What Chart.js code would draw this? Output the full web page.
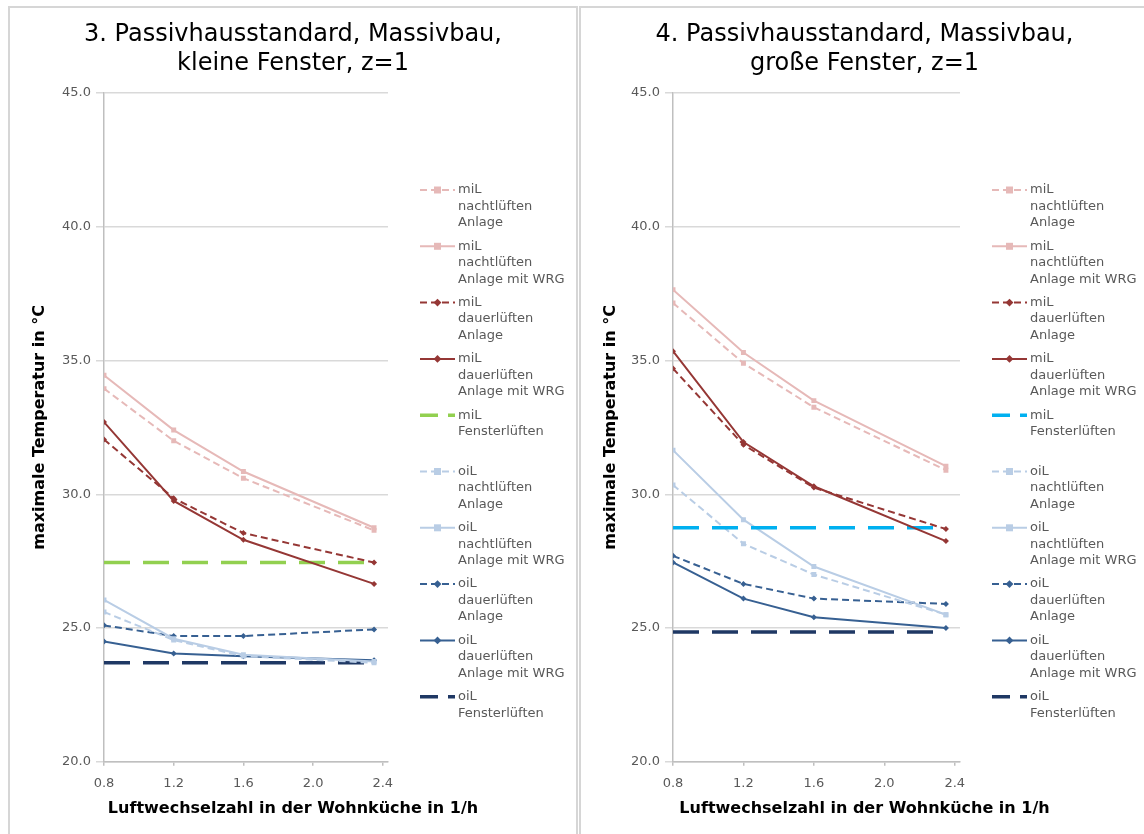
<!DOCTYPE html>
<html lang="de">
<head>
<meta charset="utf-8">
<title>Maximale Temperatur – Passivhausstandard, Massivbau</title>
<script src="https://cdn.jsdelivr.net/npm/chart.js@4.4.1/dist/chart.umd.min.js"></script>
<style>
  html, body { margin: 0; padding: 0; background: #fff; overflow: hidden; }
  .panel { position: absolute; top: 6px; border: 2px solid #d6d6d6; background: #fff; }
  #panel-klein { left: 8px; }
  #panel-gross { left: 579px; }
  canvas { display: block; }
</style>
</head>
<body>
<div class="panel" id="panel-klein"><canvas id="chartKlein" width="566" height="826"></canvas></div>
<div class="panel" id="panel-gross"><canvas id="chartGross" width="567" height="826"></canvas></div>
<script>
// Luftwechselzahl in der Wohnküche (1/h) und Achsenteilung
const luftwechsel = [0.8, 1.2, 1.6, 2.35];
const xTicks = [0.8, 1.2, 1.6, 2.0, 2.4];
const yTicks = [20, 25, 30, 35, 40, 45];

const seriesNames = [
  ['miL', 'nachtlüften', 'Anlage'],
  ['miL', 'nachtlüften', 'Anlage mit WRG'],
  ['miL', 'dauerlüften', 'Anlage'],
  ['miL', 'dauerlüften', 'Anlage mit WRG'],
  ['miL', 'Fensterlüften'],
  ['oiL', 'nachtlüften', 'Anlage'],
  ['oiL', 'nachtlüften', 'Anlage mit WRG'],
  ['oiL', 'dauerlüften', 'Anlage'],
  ['oiL', 'dauerlüften', 'Anlage mit WRG'],
  ['oiL', 'Fensterlüften']
];

// 3. kleine Fenster – maximale Temperatur in °C
const kleinMilNachtAnlage = [33.95, 32.0, 30.6, 28.65];
const kleinMilNachtWrg = [34.45, 32.4, 30.85, 28.75];
const kleinMilDauerAnlage = [32.05, 29.85, 28.55, 27.45];
const kleinMilDauerWrg = [32.7, 29.75, 28.3, 26.65];
const kleinMilFenster = [27.45, 27.45, 27.45, 27.45];
const kleinOilNachtAnlage = [25.6, 24.55, 23.95, 23.7];
const kleinOilNachtWrg = [26.05, 24.6, 24.0, 23.75];
const kleinOilDauerAnlage = [25.1, 24.7, 24.7, 24.95];
const kleinOilDauerWrg = [24.5, 24.05, 23.95, 23.8];
const kleinOilFenster = [23.7, 23.7, 23.7, 23.7];

// 4. große Fenster – maximale Temperatur in °C
const grossMilNachtAnlage = [37.15, 34.9, 33.25, 30.9];
const grossMilNachtWrg = [37.65, 35.3, 33.5, 31.05];
const grossMilDauerAnlage = [34.7, 31.85, 30.25, 28.7];
const grossMilDauerWrg = [35.35, 31.95, 30.3, 28.25];
const grossMilFenster = [28.75, 28.75, 28.75, 28.75];
const grossOilNachtAnlage = [30.35, 28.15, 27.0, 25.5];
const grossOilNachtWrg = [31.65, 29.05, 27.3, 25.5];
const grossOilDauerAnlage = [27.7, 26.65, 26.1, 25.9];
const grossOilDauerWrg = [27.45, 26.1, 25.4, 25.0];
const grossOilFenster = [24.85, 24.85, 24.85, 24.85];

// Linienstil je Reihe (Fensterlüften-Farbe kommt pro Diagramm dazu)
const DASH = [7, 4];
const LONG_DASH = [26, 13];
const seriesStyles = [
  { color: '#e6b9b8', dash: DASH, point: 'rect', radius: 3.5 },
  { color: '#e6b9b8', dash: [], point: 'rect', radius: 3.5 },
  { color: '#953735', dash: DASH, point: 'rectRot', radius: 3 },
  { color: '#953735', dash: [], point: 'rectRot', radius: 3 },
  { color: null, dash: LONG_DASH, point: false, radius: 0, width: 3.5 },
  { color: '#b9cde5', dash: DASH, point: 'rect', radius: 3.5 },
  { color: '#b9cde5', dash: [], point: 'rect', radius: 3.5 },
  { color: '#376092', dash: DASH, point: 'rectRot', radius: 3 },
  { color: '#376092', dash: [], point: 'rectRot', radius: 3 },
  { color: '#1f3864', dash: LONG_DASH, point: false, radius: 0, width: 3.5 }
];

const FONT = "'DejaVu Sans', sans-serif";
const GREY_TEXT = '#595959';

function buildDatasets(seriesValues, fensterColor) {
  return seriesValues.map((values, i) => {
    const st = seriesStyles[i];
    const color = st.color || fensterColor;
    return {
      label: seriesNames[i].join(' '),
      data: values.map((v, k) => ({ x: luftwechsel[k], y: v })),
      borderColor: color,
      backgroundColor: color,
      borderWidth: st.width || 2,
      borderDash: st.dash,
      pointStyle: st.point,
      pointRadius: st.radius,
      pointBorderWidth: 0,
      tension: 0
    };
  });
}

function drawMarker(ctx, style, x, y, r) {
  if (!style) return;
  ctx.beginPath();
  if (style === 'rect') {
    ctx.rect(x - r, y - r, 2 * r, 2 * r);
  } else {
    ctx.moveTo(x, y - r * 1.3);
    ctx.lineTo(x + r * 1.3, y);
    ctx.lineTo(x, y + r * 1.3);
    ctx.lineTo(x - r * 1.3, y);
    ctx.closePath();
  }
  ctx.fill();
}

// Legende rechts neben dem Diagramm, Bezeichnungen über mehrere Zeilen
const seriesLegend = {
  id: 'seriesLegend',
  afterDraw(chart) {
    const ctx = chart.ctx;
    const x0 = chart.chartArea.right + 32;
    const sampleLen = 35;
    const textX = x0 + 38;
    const top = 182;
    const lineH = 16.5;
    const pitch = 56.3;
    ctx.save();
    chart.data.datasets.forEach((ds, i) => {
      const y = top + i * pitch;
      const st = seriesStyles[i];
      ctx.strokeStyle = ds.borderColor;
      ctx.fillStyle = ds.borderColor;
      ctx.lineWidth = ds.borderWidth;
      ctx.setLineDash(st.point ? ds.borderDash : [18, 10]);
      ctx.beginPath();
      ctx.moveTo(x0, y);
      ctx.lineTo(x0 + sampleLen, y);
      ctx.stroke();
      ctx.setLineDash([]);
      drawMarker(ctx, st.point, x0 + sampleLen / 2, y, st.radius);
      ctx.fillStyle = GREY_TEXT;
      ctx.font = '13px ' + FONT;
      ctx.textAlign = 'left';
      ctx.textBaseline = 'middle';
      seriesNames[i].forEach((line, k) => ctx.fillText(line, textX, y + k * lineH));
    });
    ctx.restore();
  }
};

function makeChart(canvasId, titleLines, seriesValues, fensterColor, yAxisWidth) {
  return new Chart(document.getElementById(canvasId), {
    type: 'line',
    data: { datasets: buildDatasets(seriesValues, fensterColor) },
    plugins: [seriesLegend],
    options: {
      responsive: false,
      animation: false,
      devicePixelRatio: 1,
      layout: { padding: 0 },
      plugins: {
        legend: { display: false },
        tooltip: { enabled: false },
        title: {
          display: true,
          text: titleLines,
          color: '#000',
          font: { family: FONT, size: 24, weight: 'normal' },
          padding: { top: 12.6, bottom: 14.8 }
        },
        subtitle: {
          display: true,
          position: 'bottom',
          text: 'Luftwechselzahl in der Wohnküche in 1/h',
          color: '#000',
          font: { family: FONT, size: 16, weight: 'bold' },
          padding: { top: 7, bottom: 16 }
        }
      },
      scales: {
        x: {
          type: 'linear',
          min: 0.8,
          max: 2.43,
          afterBuildTicks: s => { s.ticks = xTicks.map(v => ({ value: v })); },
          afterFit: s => { s.height = 30; },
          grid: { drawOnChartArea: false, tickLength: 4, color: '#bfbfbf', lineWidth: 1.5 },
          border: { color: '#bfbfbf', width: 1.5 },
          ticks: {
            padding: 10,
            maxRotation: 0,
            autoSkip: false,
            color: GREY_TEXT,
            font: { family: FONT, size: 13 },
            callback: v => v.toFixed(1)
          }
        },
        y: {
          min: 20,
          max: 45,
          afterBuildTicks: s => { s.ticks = yTicks.map(v => ({ value: v })); },
          afterFit: s => { s.width = yAxisWidth; },
          grid: { color: '#d9d9d9', lineWidth: 1.5, tickLength: 8 },
          border: { color: '#bfbfbf', width: 1.5 },
          ticks: {
            padding: 5,
            color: GREY_TEXT,
            font: { family: FONT, size: 13 },
            callback: v => v.toFixed(1)
          },
          title: {
            display: true,
            text: 'maximale Temperatur in °C',
            color: '#000',
            font: { family: FONT, size: 16, weight: 'bold' },
            padding: { top: 20, bottom: 0 }
          }
        },
        // leerer Rand rechts für die Legende
        legendSpace: {
          position: 'right',
          afterFit: s => { s.width = 188; },
          ticks: { display: false },
          grid: { display: false },
          border: { display: false }
        }
      }
    }
  });
}

makeChart('chartKlein', ['3. Passivhausstandard, Massivbau,', 'kleine Fenster, z=1'], [
  kleinMilNachtAnlage, kleinMilNachtWrg, kleinMilDauerAnlage, kleinMilDauerWrg, kleinMilFenster,
  kleinOilNachtAnlage, kleinOilNachtWrg, kleinOilDauerAnlage, kleinOilDauerWrg, kleinOilFenster
], '#92d050', 94);

makeChart('chartGross', ['4. Passivhausstandard, Massivbau,', 'große Fenster, z=1'], [
  grossMilNachtAnlage, grossMilNachtWrg, grossMilDauerAnlage, grossMilDauerWrg, grossMilFenster,
  grossOilNachtAnlage, grossOilNachtWrg, grossOilDauerAnlage, grossOilDauerWrg, grossOilFenster
], '#00b0f0', 92);
</script>
</body>
</html>
